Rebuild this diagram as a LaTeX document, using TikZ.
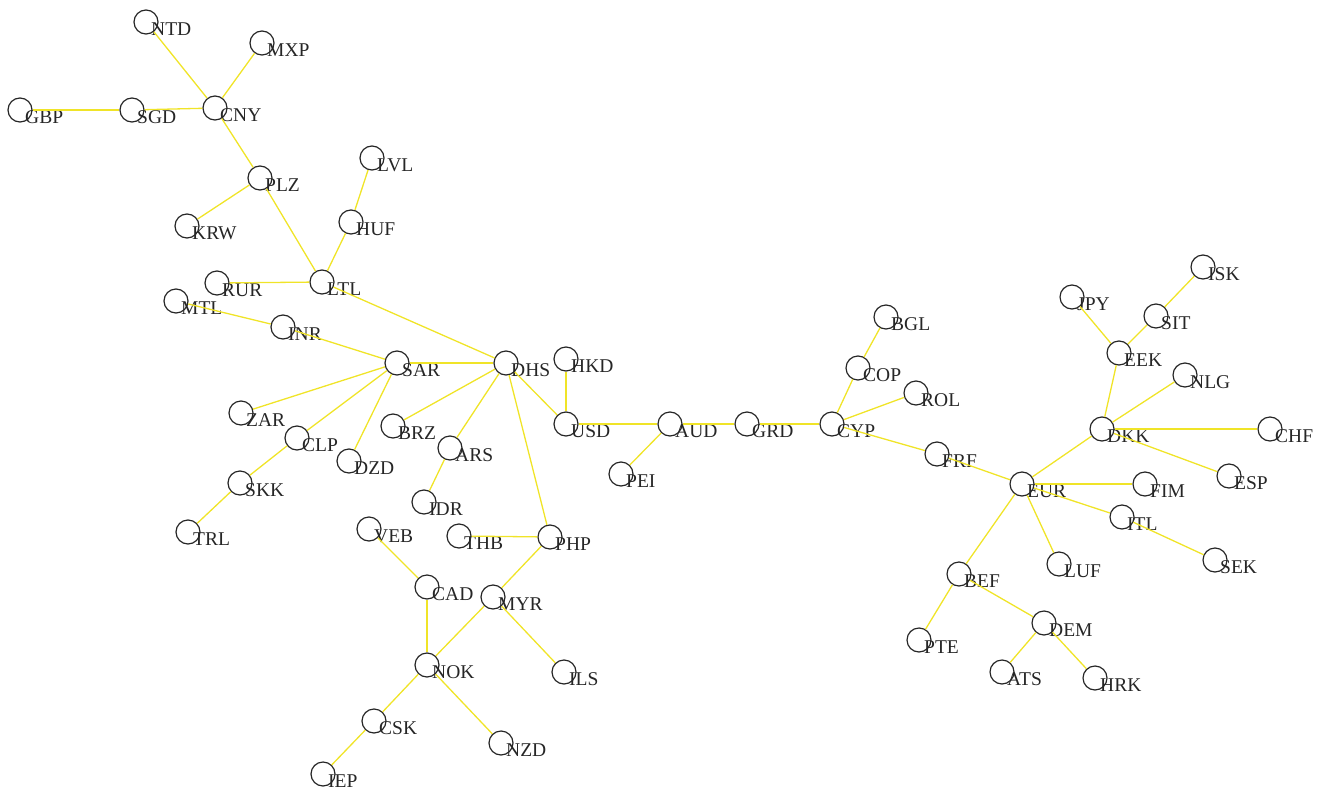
\documentclass[tikz,border=0pt]{standalone}
\usepackage{fontspec}
\setmainfont{Liberation Serif}
\definecolor{edgeyellow}{RGB}{240,228,40}
\definecolor{inkgray}{RGB}{38,38,38}
\tikzset{
  cur/.style={circle, draw=inkgray, line width=1.2pt, minimum size=24pt, inner sep=0pt},
  curlbl/.style={anchor=base west, inner sep=0pt, text=inkgray, font=\fontsize{19.5}{20}\selectfont},
  link/.style={draw=edgeyellow, line width=1.3pt}
}
% \currency{name}{x}{y}: a circle at (x,y) with its code set below right
\newcommand{\currency}[3]{%
  \node[cur] (#1) at (#2,#3) {};
  \node[curlbl] (#1-l) at (#2+5,#3+13) {#1};
}
\begin{document}
\begin{tikzpicture}[x=1pt,y=-1pt]
\useasboundingbox (0,0) rectangle (1330,795);
% nodes
\currency{NTD}{146}{22}
\currency{MXP}{262}{43}
\currency{GBP}{20}{110}
\currency{SGD}{132}{110}
\currency{CNY}{215}{108}
\currency{PLZ}{260}{178}
\currency{KRW}{187}{226}
\currency{LVL}{372}{158}
\currency{HUF}{351}{222}
\currency{RUR}{217}{283}
\currency{LTL}{322}{282}
\currency{MTL}{176}{301}
\currency{INR}{283}{327}
\currency{SAR}{397}{363}
\currency{DHS}{506}{363}
\currency{ZAR}{241}{413}
\currency{CLP}{297}{438}
\currency{BRZ}{393}{426}
\currency{ARS}{450}{448}
\currency{DZD}{349}{461}
\currency{SKK}{240}{483}
\currency{IDR}{424}{502}
\currency{TRL}{188}{532}
\currency{VEB}{369}{529}
\currency{THB}{459}{536}
\currency{PHP}{550}{537}
\currency{CAD}{427}{587}
\currency{MYR}{493}{597}
\currency{NOK}{427}{665}
\currency{ILS}{564}{672}
\currency{CSK}{374}{721}
\currency{NZD}{501}{743}
\currency{IEP}{323}{774}
\currency{HKD}{566}{359}
\currency{USD}{566}{424}
\currency{AUD}{670}{424}
\currency{GRD}{747}{424}
\currency{CYP}{832}{424}
\currency{PEI}{621}{474}
\currency{BGL}{886}{317}
\currency{COP}{858}{368}
\currency{ROL}{916}{393}
\currency{FRF}{937}{454}
\currency{ISK}{1203}{267}
\currency{JPY}{1072}{297}
\currency{SIT}{1156}{316}
\currency{EEK}{1119}{353}
\currency{NLG}{1185}{375}
\currency{DKK}{1102}{429}
\currency{CHF}{1270}{429}
\currency{ESP}{1229}{476}
\currency{EUR}{1022}{484}
\currency{FIM}{1145}{484}
\currency{ITL}{1122}{517}
\currency{SEK}{1215}{560}
\currency{LUF}{1059}{564}
\currency{BEF}{959}{574}
\currency{DEM}{1044}{623}
\currency{PTE}{919}{640}
\currency{ATS}{1002}{672}
\currency{HRK}{1095}{678}
% links
\foreach \a/\b in {GBP/SGD, SGD/CNY, CNY/NTD, CNY/MXP, CNY/PLZ, PLZ/KRW, PLZ/LTL,
  LTL/HUF, HUF/LVL, LTL/RUR, LTL/DHS, MTL/INR, INR/SAR, SAR/DHS, SAR/ZAR, SAR/CLP,
  SAR/DZD, CLP/SKK, SKK/TRL, DHS/BRZ, DHS/ARS, ARS/IDR, DHS/PHP, DHS/USD, HKD/USD,
  PHP/THB, PHP/MYR, MYR/NOK, MYR/ILS, VEB/CAD, CAD/NOK, NOK/CSK, CSK/IEP, NOK/NZD,
  USD/AUD, AUD/PEI, AUD/GRD, GRD/CYP, CYP/COP, COP/BGL, CYP/ROL, CYP/FRF, FRF/EUR,
  EUR/DKK, DKK/EEK, EEK/JPY, EEK/SIT, SIT/ISK, DKK/NLG, DKK/CHF, DKK/ESP, EUR/FIM,
  EUR/ITL, ITL/SEK, EUR/LUF, EUR/BEF, BEF/PTE, BEF/DEM, DEM/ATS, DEM/HRK}
  \draw[link] (\a) -- (\b);
\end{tikzpicture}
\end{document}
